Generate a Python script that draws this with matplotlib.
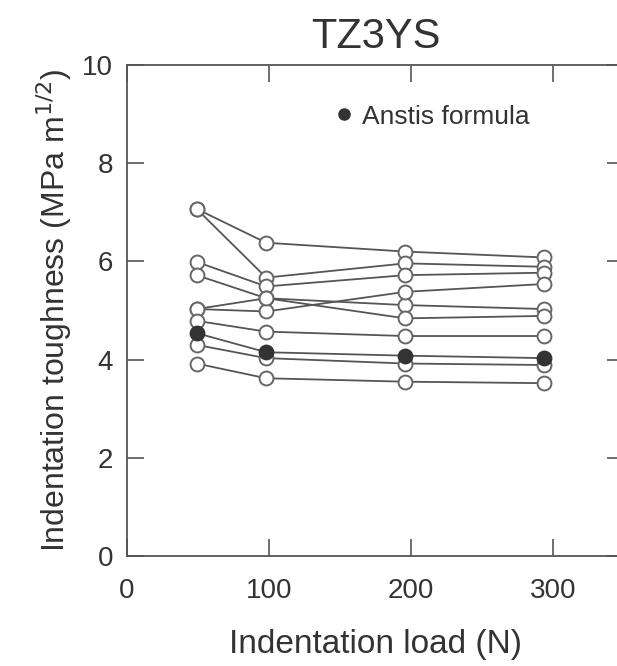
import matplotlib
matplotlib.use("Agg")
import matplotlib.pyplot as plt
from matplotlib.lines import Line2D

plt.rcParams['font.family'] = ['Liberation Sans', 'DejaVu Sans']

loads = [49, 98, 196, 294]

series = [
    [7.07, 6.38, 6.20, 6.08],
    [7.07, 5.67, 5.96, 5.89],
    [5.99, 5.49, 5.72, 5.77],
    [5.72, 5.25, 5.11, 5.03],
    [5.03, 4.98, 5.38, 5.54],
    [5.03, 5.25, 4.84, 4.89],
    [4.79, 4.57, 4.48, 4.48],
    [4.30, 4.03, 3.92, 3.89],
    [3.92, 3.62, 3.55, 3.52],
]
anstis = [4.54, 4.15, 4.08, 4.03]

title = "TZ3YS"
xlabel = "Indentation load (N)"
ylabel = r"Indentation toughness (MPa m$^{1/2}$)"
legend_label = "Anstis formula"
xticks = [0, 100, 200, 300]
yticks = [0, 2, 4, 6, 8, 10]

fig = plt.figure(figsize=(6.17, 6.66), dpi=100)
ax = fig.add_axes([127/617, 110/666, 497/617, 491/666])

lc = '#555555'
ec = '#666666'
for s in series:
    ax.plot(loads, s, '-', color=lc, lw=1.3, marker='o', ms=10,
            mfc='white', mec=ec, mew=1.4, zorder=2)
ax.plot(loads, anstis, '-', color=lc, lw=1.3, marker='o', ms=10,
        mfc='#333333', mec='#333333', mew=1.4, zorder=3)

ax.set_xlim(0, 350)
ax.set_ylim(0, 10)
ax.set_xticks(xticks)
ax.set_yticks(yticks)
ax.tick_params(direction='in', length=12, width=1.2, colors='#555555',
               labelcolor='#333333', labelsize=20, top=True, right=True)
ax.tick_params(axis='x', pad=16)
ax.tick_params(axis='y', pad=10)
for sp in ax.spines.values():
    sp.set_color('#555555')
    sp.set_linewidth(1.3)

ax.set_title(title, fontsize=30, color='#333333', pad=12)
ax.set_xlabel(xlabel, fontsize=24, color='#333333', labelpad=18)
ax.set_ylabel(ylabel, fontsize=23, color='#333333', labelpad=6)

h = Line2D([], [], ls='none', marker='o', ms=8, mfc='#333333', mec='#333333')
ax.legend([h], [legend_label], loc='center left', bbox_to_anchor=(0.41, 0.895),
          frameon=False, fontsize=19, handletextpad=0.2, handlelength=1.0,
          borderaxespad=0, borderpad=0, labelcolor='#333333')

fig.savefig("out.png", dpi=100)
